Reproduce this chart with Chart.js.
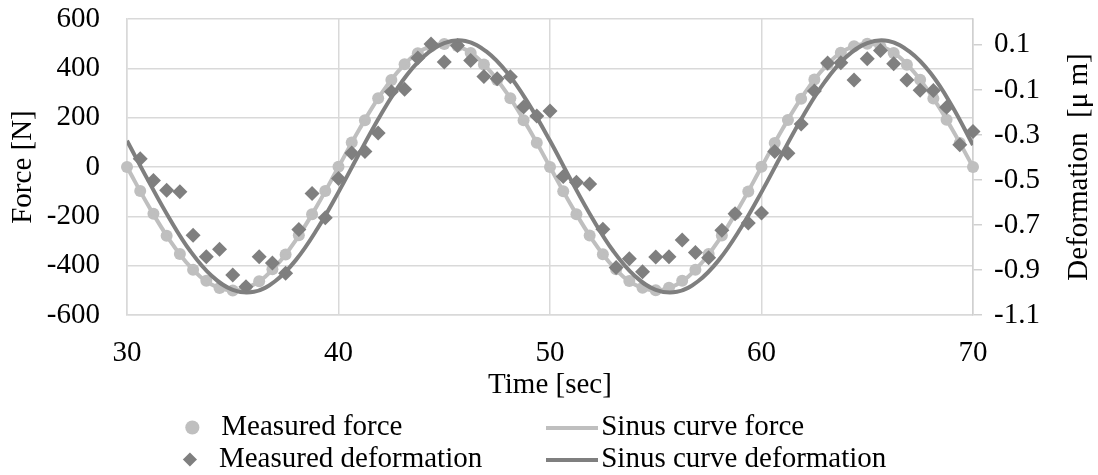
<!DOCTYPE html>
<html>
<head>
<meta charset="utf-8">
<title>Force and deformation</title>
<script src="https://cdn.jsdelivr.net/npm/chart.js@4"></script>
<style>
  html, body { margin: 0; padding: 0; background: #fff; }
  canvas { display: block; }
</style>
</head>
<body>
<canvas id="grafico" width="1098" height="475"></canvas>
<script>
// Sample times of the measurements [sec]
const sampleTimes = [
  30, 30.625, 31.25, 31.875, 32.5, 33.125, 33.75, 34.375, 35, 35.625, 36.25, 36.875, 37.5, 38.125, 38.75, 39.375,
  40, 40.625, 41.25, 41.875, 42.5, 43.125, 43.75, 44.375, 45, 45.625, 46.25, 46.875, 47.5, 48.125, 48.75, 49.375,
  50, 50.625, 51.25, 51.875, 52.5, 53.125, 53.75, 54.375, 55, 55.625, 56.25, 56.875, 57.5, 58.125, 58.75, 59.375,
  60, 60.625, 61.25, 61.875, 62.5, 63.125, 63.75, 64.375, 65, 65.625, 66.25, 66.875, 67.5, 68.125, 68.75, 69.375, 70
];

// Measured force [N]
const measuredForce = [
  0, -97, -190, -279, -353, -417, -461, -491, -501, -489, -463, -415, -355, -277, -192, -97,
  1, 99, 190, 279, 353, 417, 461, 489, 499, 491, 462, 416, 353, 279, 190, 98,
  0, -98, -192, -278, -354, -415, -462, -490, -500, -490, -461, -417, -353, -278, -191, -99,
  1, 97, 191, 277, 355, 416, 463, 490, 500, 489, 462, 415, 354, 278, 192, 97, 0
];

// Measured deformation [μm] (no reading at t = 30)
const measuredDeformation = [
  null, -0.406, -0.503, -0.546, -0.552, -0.746, -0.841, -0.808, -0.922, -0.974, -0.841, -0.869, -0.915, -0.720, -0.560, -0.668,
  -0.494, -0.380, -0.374, -0.292, -0.108, -0.097, 0.042, 0.104, 0.024, 0.097, 0.031, -0.041, -0.050, -0.042, -0.176, -0.216,
  -0.194, -0.485, -0.510, -0.518, -0.719, -0.889, -0.850, -0.908, -0.842, -0.841, -0.767, -0.822, -0.846, -0.724, -0.650, -0.691,
  -0.647, -0.374, -0.381, -0.251, -0.105, 0.019, 0.021, -0.056, 0.038, 0.075, 0.016, -0.056, -0.102, -0.103, -0.177, -0.344, -0.285
];

// Fitted sinus curves, one value per second
const curveTimes = [
  30, 31, 32, 33, 34, 35, 36, 37, 38, 39, 40, 41, 42, 43, 44, 45, 46, 47, 48, 49,
  50, 51, 52, 53, 54, 55, 56, 57, 58, 59, 60, 61, 62, 63, 64, 65, 66, 67, 68, 69, 70
];
const sinusForce = [
  0, -155, -294, -405, -476, -500, -476, -405, -294, -155, 0, 155, 294, 405, 476, 500, 476, 405, 294, 155,
  0, -155, -294, -405, -476, -500, -476, -405, -294, -155, 0, 155, 294, 405, 476, 500, 476, 405, 294, 155, 0
];
const sinusDeformation = [
  -0.326, -0.502, -0.670, -0.817, -0.926, -0.988, -0.997, -0.950, -0.854, -0.717,
  -0.554, -0.379, -0.210, -0.063, 0.046, 0.108, 0.117, 0.070, -0.026, -0.163,
  -0.326, -0.502, -0.670, -0.817, -0.926, -0.988, -0.997, -0.950, -0.854, -0.717,
  -0.554, -0.379, -0.210, -0.063, 0.046, 0.108, 0.117, 0.070, -0.026, -0.170, -0.345
];

// Axis ticks
const timeTicks = [30, 40, 50, 60, 70];
const forceTicks = [-600, -400, -200, 0, 200, 400, 600];
const deformationTicks = [-1.1, -0.9, -0.7, -0.5, -0.3, -0.1, 0.1];

const seriesNames = ["Measured force", "Sinus curve force", "Measured deformation", "Sinus curve deformation"];

const lightGrey = "#bfbfbf";
const darkGrey = "#7f7f7f";
const gridGrey = "#d9d9d9";
const fontFamily = "'Liberation Serif', 'Times New Roman', serif";
const fontSize = 29;

Chart.defaults.font.family = fontFamily;
Chart.defaults.font.size = fontSize;
Chart.defaults.color = "#000";

const toPoints = (xs, ys) => xs.map((x, i) => ({ x: x, y: ys[i] }));

// Legend text padded with spaces so both rows line up in two columns
const measureCtx = document.createElement("canvas").getContext("2d");
measureCtx.font = fontSize + "px " + fontFamily;
function padLabel(text, width) {
  let s = text;
  while (measureCtx.measureText(s + " ").width <= width + 3) s += " ";
  return s;
}

// Small line swatch used as the legend symbol of the curves
function lineSwatch(color) {
  const c = document.createElement("canvas");
  c.width = 52;
  c.height = 4;
  const g = c.getContext("2d");
  g.fillStyle = color;
  g.fillRect(0, 0, 52, 4);
  return c;
}

const legendEntries = [
  { text: padLabel(seriesNames[0], 334), color: lightGrey, style: "circle", index: 0 },
  { text: padLabel(seriesNames[1], 322), color: lightGrey, style: lineSwatch(lightGrey), index: 1 },
  { text: padLabel(seriesNames[2], 334), color: darkGrey, style: "rectRot", index: 2 },
  { text: padLabel(seriesNames[3], 322), color: darkGrey, style: lineSwatch(darkGrey), index: 3 },
];

// Title of the right axis, written bottom to top like the left one
const rightAxisTitle = {
  id: "rightAxisTitle",
  afterDraw(chart, args, opts) {
    const s = chart.scales.y2;
    const ctx = chart.ctx;
    ctx.save();
    ctx.translate(s.right - 19, (s.top + s.bottom) / 2);
    ctx.rotate(-Math.PI / 2);
    ctx.font = fontSize + "px " + fontFamily;
    ctx.fillStyle = "#000";
    ctx.textAlign = "center";
    ctx.textBaseline = "middle";
    ctx.fillText(opts.text, 0, 0);
    ctx.restore();
  },
};

const ctx = document.getElementById("grafico").getContext("2d");
const chart = new Chart(ctx, {
  type: "scatter",
  data: {
    datasets: [
      {
        label: seriesNames[0],
        data: toPoints(sampleTimes, measuredForce),
        yAxisID: "y",
        pointStyle: "circle",
        pointRadius: 6,
        pointBorderWidth: 0,
        backgroundColor: lightGrey,
        borderColor: lightGrey,
        clip: false,
        order: 4,
      },
      {
        label: seriesNames[1],
        data: toPoints(curveTimes, sinusForce),
        yAxisID: "y",
        showLine: true,
        tension: 0.4,
        pointRadius: 0,
        borderWidth: 4,
        borderColor: lightGrey,
        backgroundColor: lightGrey,
        order: 3,
      },
      {
        label: seriesNames[2],
        data: toPoints(sampleTimes, measuredDeformation),
        yAxisID: "y2",
        pointStyle: "rectRot",
        pointRadius: 7.5,
        pointBorderWidth: 0,
        backgroundColor: darkGrey,
        borderColor: darkGrey,
        clip: false,
        order: 2,
      },
      {
        label: seriesNames[3],
        data: toPoints(curveTimes, sinusDeformation),
        yAxisID: "y2",
        showLine: true,
        tension: 0.4,
        pointRadius: 0,
        borderWidth: 4,
        borderColor: darkGrey,
        backgroundColor: darkGrey,
        order: 1,
      },
    ],
  },
  options: {
    responsive: false,
    animation: false,
    devicePixelRatio: 1,
    layout: { padding: { top: 19, bottom: -9, left: 0, right: 0 } },
    plugins: {
      tooltip: { enabled: false },
      rightAxisTitle: { text: "Deformation  [μ m]" },
      legend: {
        position: "bottom",
        labels: {
          usePointStyle: true,
          boxHeight: 10,
          padding: 3,
          color: "#000",
          font: { size: fontSize, family: fontFamily },
          generateLabels: () =>
            legendEntries.map((e) => ({
              text: e.text,
              fillStyle: e.color,
              strokeStyle: e.color,
              lineWidth: 0,
              pointStyle: e.style,
              fontColor: "#000",
              hidden: false,
              datasetIndex: e.index,
            })),
        },
      },
    },
    scales: {
      x: {
        type: "linear",
        position: "bottom",
        min: 30,
        max: 70,
        afterBuildTicks: (scale) => {
          scale.ticks = timeTicks.map((v) => ({ value: v }));
        },
        afterFit: (scale) => {
          scale.height = 95;
        },
        ticks: { padding: 21 },
        grid: { color: gridGrey, lineWidth: 1.5, drawTicks: false },
        border: { display: true, color: gridGrey, width: 1.5 },
        title: { display: true, text: "Time [sec]", padding: { top: 0, bottom: 7 } },
      },
      y: {
        position: "left",
        min: -600,
        max: 600,
        afterBuildTicks: (scale) => {
          scale.ticks = forceTicks.map((v) => ({ value: v }));
        },
        afterFit: (scale) => {
          scale.width = 127;
          scale.paddingTop = 0;
          scale.paddingBottom = 0;
        },
        ticks: { padding: 27, callback: (v) => String(v) },
        grid: { color: gridGrey, lineWidth: 1.5, drawTicks: false },
        border: { display: true, color: gridGrey, width: 1.5 },
        title: { display: true, text: "Force [N]", padding: { top: 6, bottom: 0 } },
      },
      y2: {
        position: "right",
        min: -1.1,
        max: 0.215,
        afterBuildTicks: (scale) => {
          scale.ticks = deformationTicks.map((v) => ({ value: v }));
        },
        afterFit: (scale) => {
          scale.width = 125;
          scale.paddingTop = 0;
          scale.paddingBottom = 0;
        },
        ticks: { padding: 12, callback: (v) => v.toFixed(1) },
        grid: { drawOnChartArea: false, drawTicks: true, tickLength: 9, color: "#d0d0d0", lineWidth: 1.5 },
        border: { display: true, color: "#d0d0d0", width: 1.5 },
      },
    },
  },
  plugins: [rightAxisTitle],
});
</script>
</body>
</html>
